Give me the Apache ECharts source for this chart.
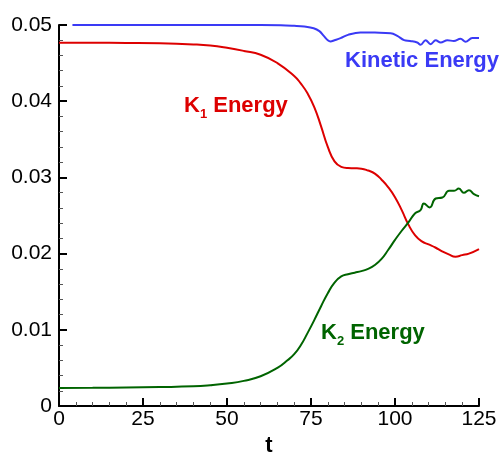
<!DOCTYPE html>
<html>
<head>
<meta charset="utf-8">
<script src="https://cdn.jsdelivr.net/npm/echarts@6/dist/echarts.min.js"></script>
<style>
html,body{margin:0;padding:0;background:#fff;}
#chart{width:501px;height:462px;}
</style>
</head>
<body>
<div id="chart"></div>
<script>
// Data
var tKin = [4, 20, 40, 60, 66, 70, 73, 75.8, 77.5, 78.8, 80, 80.8, 82, 83.8, 86, 89.7, 94, 98.7, 100.7, 102.7, 104.5, 106.6, 107.6, 109.1, 110.6, 112.1, 113.6, 115.6, 117.5, 119.5, 121, 123, 125];
var vKin = [0.0500, 0.0500, 0.0500, 0.0500, 0.04998, 0.0499, 0.0498, 0.04958, 0.0492, 0.04858, 0.0480, 0.04784, 0.0480, 0.04827, 0.0487, 0.04902, 0.0490, 0.04893, 0.04858, 0.04801, 0.0479, 0.04771, 0.04741, 0.04801, 0.04749, 0.0480, 0.0477, 0.0480, 0.0479, 0.0482, 0.0478, 0.0483, 0.0483];

var tK1 = [0, 10, 20, 30, 40, 45, 50, 55, 60, 65, 70, 72, 74, 76, 78, 80, 82, 84, 86, 88, 90, 92, 94, 96, 98, 100, 102, 104, 106, 108, 110, 112, 114, 116, 118, 120, 122, 125];
var vK1 = [0.04767, 0.04767, 0.04765, 0.0476, 0.04745, 0.0473, 0.0470, 0.0466, 0.0461, 0.0450, 0.0433, 0.0423, 0.0410, 0.0392, 0.0367, 0.0340, 0.0321, 0.03138, 0.03122, 0.0312, 0.03115, 0.0309, 0.0305, 0.0297, 0.0287, 0.0274, 0.0257, 0.0238, 0.0224, 0.0216, 0.0212, 0.0208, 0.0203, 0.0199, 0.0196, 0.0198, 0.0200, 0.0206];

var tK2 = [0, 10, 20, 30, 40, 45, 50, 55, 60, 65, 68, 70, 72, 74, 76, 78, 80, 82, 84, 86, 88, 90, 92, 94, 96, 98, 100, 102, 104, 106, 107.6, 108.6, 110.3, 112.1, 114.1, 116.1, 117.6, 119, 120.5, 122, 123.5, 125];
var vK2 = [0.00236, 0.00238, 0.00242, 0.00248, 0.00258, 0.00272, 0.00295, 0.0033, 0.0039, 0.0050, 0.0060, 0.0068, 0.0080, 0.0096, 0.0113, 0.0131, 0.0148, 0.0162, 0.0170, 0.0173, 0.0175, 0.0177, 0.0180, 0.0185, 0.0193, 0.0205, 0.0218, 0.0230, 0.0241, 0.0253, 0.02571, 0.02658, 0.02606, 0.02723, 0.02736, 0.02824, 0.02824, 0.02854, 0.02798, 0.02832, 0.0278, 0.02753];

var xTicks = [0, 25, 50, 75, 100, 125];
var yTicks = [0, 0.01, 0.02, 0.03, 0.04, 0.05];

function pairs(t, v) { return t.map(function (x, i) { return [x, v[i]]; }); }

var chart = echarts.init(document.getElementById('chart'), null, {renderer: 'canvas'});
var font = 'Liberation Sans, Arial, sans-serif';
var option = {
  animation: false,
  grid: {left: 59, right: 22, top: 25, bottom: 53, containLabel: false},
  xAxis: {
    type: 'value', min: xTicks[0], max: xTicks[xTicks.length - 1], interval: 25,
    name: 't', nameLocation: 'middle', nameGap: 29,
    nameTextStyle: {fontFamily: font, fontSize: 22, fontWeight: 'bold', color: '#000'},
    axisLine: {show: true, onZero: false, lineStyle: {color: '#000', width: 2}},
    axisTick: {show: true, inside: true, length: 8, lineStyle: {color: '#000', width: 2}},
    minorTick: {show: true, splitNumber: 5, length: 4, lineStyle: {color: '#555', width: 1}},
    splitLine: {show: false},
    axisLabel: {fontFamily: font, fontSize: 21, color: '#000', margin: 3}
  },
  yAxis: {
    type: 'value', min: yTicks[0], max: yTicks[yTicks.length - 1], interval: 0.01,
    axisLine: {show: true, onZero: false, lineStyle: {color: '#000', width: 2}},
    axisTick: {show: true, inside: true, length: 8, lineStyle: {color: '#000', width: 2}},
    minorTick: {show: true, splitNumber: 5, length: 4, lineStyle: {color: '#555', width: 1}},
    splitLine: {show: false},
    axisLabel: {fontFamily: font, fontSize: 21, color: '#000', margin: 7,
      formatter: function (v) { return v === 0 ? '0' : v.toFixed(2); }}
  },
  series: [
    {type: 'line', data: pairs(tKin, vKin), showSymbol: false, smooth: 0.4, clip: false,
     lineStyle: {color: '#3a3af5', width: 2}},
    {type: 'line', data: pairs(tK1, vK1), showSymbol: false, smooth: 0.5, clip: false,
     lineStyle: {color: '#dd0000', width: 2}},
    {type: 'line', data: pairs(tK2, vK2), showSymbol: false, smooth: 0.5, clip: false,
     lineStyle: {color: '#006400', width: 2}}
  ],
  graphic: [
    {type: 'text', left: 345, top: 50,
     style: {text: 'Kinetic Energy', fill: '#3a3af5', font: 'bold 22px ' + font}},
    {type: 'text', left: 184, top: 95,
     style: {text: '{a|K}{s|1}{a| Energy}', rich: {
       a: {fill: '#dd0000', font: 'bold 22px ' + font, verticalAlign: 'bottom'},
       s: {fill: '#dd0000', font: 'bold 13px ' + font, verticalAlign: 'bottom', padding: [0, 0, -4, 0]}
     }}},
    {type: 'text', left: 321, top: 322,
     style: {text: '{a|K}{s|2}{a| Energy}', rich: {
       a: {fill: '#006400', font: 'bold 22px ' + font, verticalAlign: 'bottom'},
       s: {fill: '#006400', font: 'bold 13px ' + font, verticalAlign: 'bottom', padding: [0, 0, -4, 0]}
     }}}
  ]
};
chart.setOption(option);
</script>
</body>
</html>
